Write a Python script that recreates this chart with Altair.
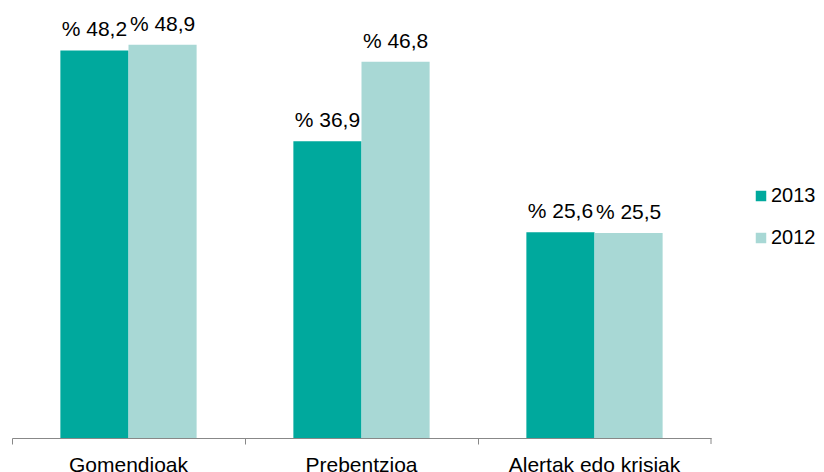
import altair as alt
import pandas as pd

categories = ["Gomendioak", "Prebentzioa", "Alertak edo krisiak"]
years = ["2013", "2012"]
values_2013 = [48.2, 36.9, 25.6]
values_2012 = [48.9, 46.8, 25.5]

rows = []
for c, v13, v12 in zip(categories, values_2013, values_2012):
    rows.append({"cat": c, "year": "2013", "value": v13})
    rows.append({"cat": c, "year": "2012", "value": v12})
df = pd.DataFrame(rows)
df["label"] = df["value"].map(lambda v: "% " + f"{v:.1f}".replace(".", ","))

FONT = "Liberation Sans"
colors = ["#00A99D", "#A8D8D5"]

x = alt.X("cat:N", sort=categories, title=None,
          scale=alt.Scale(paddingInner=0, paddingOuter=0),
          axis=alt.Axis(bandPosition=0, labelAngle=0, labelFont=FONT, labelFontSize=21,
                        labelColor="#000000", domainColor="#888888", tickColor="#888888",
                        tickSize=6, labelPadding=10, grid=False))
xo = alt.XOffset("year:N", sort=years, scale=alt.Scale(paddingOuter=0.71, paddingInner=0))
y = alt.Y("value:Q", scale=alt.Scale(domain=[0, 50]), axis=None)

bars = alt.Chart(df).mark_bar().encode(
    x=x, xOffset=xo, y=y,
    color=alt.Color("year:N", scale=alt.Scale(domain=years, range=colors),
                    legend=alt.Legend(title=None, orient="none", legendX=739, legendY=150,
                                      padding=0, symbolType="square", symbolSize=110,
                                      labelFont=FONT, labelFontSize=20, labelColor="#000000",
                                      rowPadding=22, labelOffset=0, symbolStrokeWidth=0)),
)

text = alt.Chart(df).mark_text(baseline="alphabetic", dy=-14, font=FONT, fontSize=21,
                               color="#000000").encode(
    x=x, xOffset=xo, y=y, text="label:N"
)

endtick = alt.Chart(pd.DataFrame({"v": [0]})).mark_rule(color="#888888").encode(
    x=alt.value(699), y=alt.value(402), y2=alt.value(408)
)

chart = alt.layer(bars, text, endtick).properties(
    width=699, height=402,
    autosize=alt.AutoSizeParams(type="none"),
    padding={"left": 4, "top": 28, "right": 105, "bottom": 40},
).configure_view(stroke=None)

chart.save("out.html", embed_options={"renderer": "svg", "actions": False})
